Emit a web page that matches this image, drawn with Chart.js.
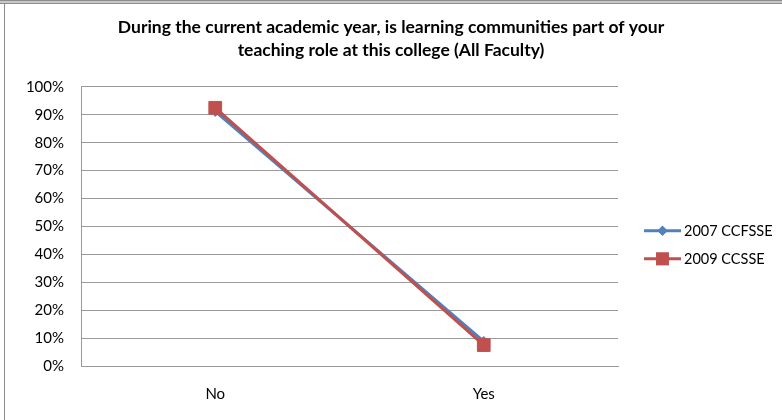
<!DOCTYPE html>
<html>
<head>
<meta charset="utf-8">
<script src="https://cdn.jsdelivr.net/npm/chart.js@4"></script>
<style>
  html, body { margin: 0; padding: 0; background: #fff; }
  #frame {
    position: relative;
    width: 782px;
    height: 420px;
    overflow: hidden;
  }
  #frame::before {
    content: '';
    position: absolute;
    left: 0; top: 0; right: 0;
    height: 2px;
    border-top: 1px solid #8c8c8c;
    border-bottom: 1px solid #8c8c8c;
    background: #c8c8c8;
  }
  #frame::after {
    content: '';
    position: absolute;
    left: 4px; top: 3px; bottom: 0;
    width: 1px;
    background: #8c8c8c;
  }
  canvas { position: absolute; left: 0; top: 0; }
</style>
</head>
<body>
<div id="frame"><canvas id="chart" width="782" height="420"></canvas></div>
<script>
const categories = ['No', 'Yes'];
const series2007 = [91.2, 8.8];
const series2009 = [92.5, 7.5];
const yTicks = [0, 10, 20, 30, 40, 50, 60, 70, 80, 90, 100];
const titleLines = [
  'During the current academic year, is learning communities part of your',
  'teaching role at this college (All Faculty)',
];

const COLORS = {
  blue: '#4f81bd',
  red: '#c0504d',
  grid: '#9a9a9a',
  text: '#000',
};

const FONT = 'Lato, "Liberation Sans", sans-serif';

// title spans the whole canvas, not only the part left of the legend
const wideTitle = {
  id: 'wideTitle',
  afterLayout(chart) {
    const block = chart.titleBlock;
    if (!block) return;
    block.left = 0;
    block.right = chart.width;
    block.width = chart.width;
  },
};

// Excel style legend: a short line with the marker in its middle
const lineLegend = {
  id: 'lineLegend',
  afterDraw(chart) {
    const { ctx, chartArea } = chart;
    const x0 = chartArea.right + 26;
    const x1 = chartArea.right + 63;
    const items = [
      { label: '2007 CCFSSE', color: COLORS.blue, style: 'rectRot', radius: 5, y: chartArea.top + 144 },
      { label: '2009 CCSSE', color: COLORS.red, style: 'rect', radius: 9, y: chartArea.top + 172 },
    ];
    ctx.save();
    items.forEach((item) => {
      ctx.strokeStyle = item.color;
      ctx.lineWidth = 3;
      ctx.beginPath();
      ctx.moveTo(x0, item.y);
      ctx.lineTo(x1, item.y);
      ctx.stroke();
      ctx.fillStyle = item.color;
      Chart.helpers.drawPoint(ctx, { pointStyle: item.style, radius: item.radius, borderWidth: 0 }, (x0 + x1) / 2, item.y);
      ctx.fill();
      ctx.fillStyle = COLORS.text;
      ctx.font = `14.5px ${FONT}`;
      ctx.textBaseline = 'middle';
      ctx.textAlign = 'left';
      ctx.fillText(item.label, x1 + 3, item.y);
    });
    ctx.restore();
  },
};

new Chart(document.getElementById('chart'), {
  type: 'line',
  data: {
    labels: categories,
    datasets: [
      {
        label: '2007 CCFSSE',
        data: series2007,
        borderColor: COLORS.blue,
        backgroundColor: COLORS.blue,
        borderWidth: 3,
        pointStyle: 'rectRot',
        pointRadius: 5,
        pointBorderWidth: 1,
        order: 1,
      },
      {
        label: '2009 CCSSE',
        data: series2009,
        borderColor: COLORS.red,
        backgroundColor: COLORS.red,
        borderWidth: 3,
        pointStyle: 'rect',
        pointRadius: 9,
        pointBorderWidth: 1,
        order: 0,
      },
    ],
  },
  options: {
    responsive: false,
    animation: false,
    layout: { padding: { left: 0, right: 164, top: 16, bottom: 0 } },
    plugins: {
      legend: { display: false },
      tooltip: { enabled: false },
      title: {
        display: true,
        text: titleLines,
        color: COLORS.text,
        font: { family: FONT, size: 17.5, weight: 'bold', lineHeight: 1.31 },
        padding: { top: 0, bottom: 25 },
      },
    },
    scales: {
      x: {
        offset: true,
        grid: { display: false, drawTicks: false },
        border: { color: COLORS.grid, width: 1 },
        ticks: { color: COLORS.text, font: { family: FONT, size: 15 }, padding: 19 },
        afterFit(scale) { scale.height = 54; },
      },
      y: {
        min: 0,
        max: 100,
        afterBuildTicks(scale) { scale.ticks = yTicks.map((value) => ({ value })); },
        grid: { color: COLORS.grid, drawTicks: false },
        border: { color: COLORS.grid, width: 1 },
        ticks: {
          color: COLORS.text,
          font: { family: FONT, size: 15 },
          padding: 17,
          callback: (value) => `${value}%`,
        },
        afterFit(scale) { scale.width = 81; },
      },
    },
  },
  plugins: [wideTitle, lineLegend],
});
</script>
</body>
</html>
